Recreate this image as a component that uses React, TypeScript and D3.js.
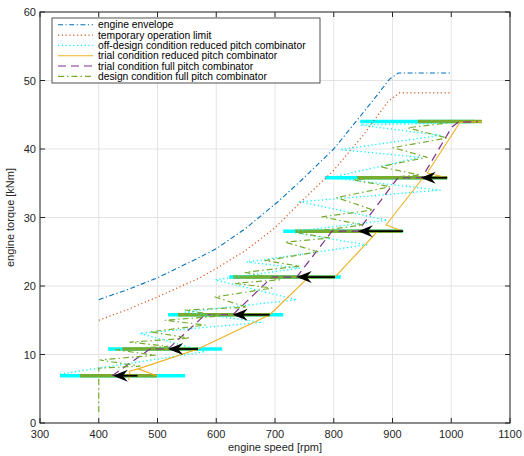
import React from 'react';
import * as d3 from 'd3';

type P = [number, number];

const xTicks = [300, 400, 500, 600, 700, 800, 900, 1000, 1100];
const yTicks = [0, 10, 20, 30, 40, 50, 60];

const envelope: P[] = [[400, 18.0], [450, 19.5], [500, 21.2], [572, 24.2], [601, 25.5], [650, 28.4], [705, 32.3], [742, 35.2], [800, 40.0], [865, 46.9], [895, 50.2], [910, 51.1], [1000, 51.1]];
const tempLimit: P[] = [[400, 15.0], [450, 16.6], [500, 18.4], [572, 21.2], [601, 22.6], [650, 25.2], [700, 28.5], [742, 32.1], [800, 36.9], [850, 42.0], [892, 46.9], [912, 48.2], [1000, 48.2]];

const offDesign: P[] = [[334, 7.15], [581, 10.4], [470, 13.1], [678, 14.7], [547, 16.2], [737, 18.0], [598, 20.9], [742, 22.6], [652, 23.5], [856, 26.0], [725, 27.9], [891, 29.6], [742, 32.3], [981, 34.0], [794, 35.8], [947, 38.8], [811, 39.9], [981, 42.0], [845, 43.5], [998, 43.8]];

const trialReduced: P[] = [[451, 6.3], [453, 7.6], [467, 7.9], [499, 6.9], [467, 7.9], [569, 10.8], [691, 15.8], [756, 21.2], [802, 21.3], [875, 28.0], [918, 28.0], [889, 28.9], [952, 35.8], [993, 35.8], [959, 36.5], [1015, 43.9], [1052, 44.0]];

const trialFull: P[] = [[423, 6.9], [487, 10.8], [518, 10.8], [581, 15.8], [628, 15.8], [695, 21.3], [737, 21.3], [797, 28.0], [841, 28.0], [909, 35.8], [950, 35.8], [1001, 43.2], [1012, 43.9], [1045, 44.0]];

const designFull: P[] = [[400, 1.6], [400, 8.0], [470, 8.3], [402, 9.2], [496, 9.9], [428, 10.7], [518, 11.2], [453, 11.8], [555, 12.4], [487, 13.3], [581, 14.3], [513, 15.0], [606, 15.6], [547, 16.5], [652, 16.9], [598, 18.4], [695, 19.7], [632, 20.4], [708, 20.9], [649, 22.0], [742, 22.9], [683, 23.7], [773, 25.0], [717, 26.4], [794, 27.0], [742, 27.7], [850, 28.9], [780, 30.1], [867, 31.1], [805, 32.9], [896, 34.5], [833, 35.5], [947, 36.2], [879, 37.4], [959, 38.8], [901, 40.2], [993, 41.6], [926, 43.1], [994, 43.8]];

const levels = [6.9, 10.8, 15.8, 21.3, 28.0, 35.8, 44.0];
const cyanStart = [334, 416, 518, 622, 714, 785, 845];
const cyanEnd = [547, 610, 714, 812, 918, 993, 1040];
const greenStart = [368, 440, 535, 629, 734, 840, 943];
const greenEnd = [499, 569, 691, 802, 916, 993, 1052];

const arrowStart = [466, 569, 691, 802, 918, 993];
const arrowTip = [424, 518, 628, 737, 841, 948];

const legendLabels = [
  'engine envelope',
  'temporary operation limit',
  'off-design condition reduced pitch combinator',
  'trial condition reduced pitch combinator',
  'trial condition full pitch combinator',
  'design condition full pitch combinator',
];

const C = {
  blue: '#0072BD',
  red: '#D95319',
  cyan: '#00FFFF',
  orange: '#EDB120',
  purple: '#7E2F8E',
  green: '#77AC30',
  axis: '#262626',
  grid: '#e3e3e3',
};

const styles = [
  { stroke: C.blue, dash: '5,2.5,1.2,2.5', w: 1.1 },
  { stroke: C.red, dash: '1.2,2.6', w: 1.2 },
  { stroke: C.cyan, dash: '1.2,2.6', w: 1.3 },
  { stroke: C.orange, dash: undefined as string | undefined, w: 1.1 },
  { stroke: C.purple, dash: '8,5', w: 1.2 },
  { stroke: C.green, dash: '6,3,1.5,3', w: 1.2 },
];

export default function App() {
  const W = 524, H = 456;
  const L = 40, R = 510, T = 12, B = 423;
  const x = d3.scaleLinear().domain([300, 1100]).range([L, R]);
  const y = d3.scaleLinear().domain([0, 60]).range([B, T]);
  const line = d3.line<P>().x(d => x(d[0])).y(d => y(d[1]));
  const font = "'Liberation Sans', Arial, Helvetica, sans-serif";
  const series: P[][] = [envelope, tempLimit, offDesign, trialReduced, trialFull, designFull];

  const arrowHead = (tx: number, ty: number) => {
    const len = 15, hw = 6, notch = 10;
    return `M${tx},${ty} L${tx + len},${ty - hw} L${tx + notch},${ty} L${tx + len},${ty + hw} Z`;
  };

  return (
    <svg width={W} height={H} style={{ position: 'absolute', left: 0, top: 0, background: '#fff' }} fontFamily={font}>
      <rect x={0} y={0} width={W} height={H} fill="#fff" />
      {xTicks.map(t => (
        <line key={'gx' + t} x1={x(t)} x2={x(t)} y1={T} y2={B} stroke={C.grid} strokeWidth={1} />
      ))}
      {yTicks.map(t => (
        <line key={'gy' + t} x1={L} x2={R} y1={y(t)} y2={y(t)} stroke={C.grid} strokeWidth={1} />
      ))}

      {levels.map((lv, i) => (
        <line key={'cb' + i} x1={x(cyanStart[i])} x2={x(cyanEnd[i])} y1={y(lv)} y2={y(lv)} stroke={C.cyan} strokeWidth={3.5} />
      ))}
      {levels.map((lv, i) => (
        <line key={'gb' + i} x1={x(greenStart[i])} x2={x(greenEnd[i])} y1={y(lv)} y2={y(lv)} stroke={C.green} strokeWidth={3.5} />
      ))}

      {series.map((s, i) => (
        <path key={'s' + i} d={line(s) || ''} fill="none" stroke={styles[i].stroke} strokeWidth={styles[i].w}
          strokeDasharray={styles[i].dash} strokeLinejoin="round" />
      ))}

      {arrowStart.map((s, i) => (
        <g key={'a' + i}>
          <line x1={x(s)} x2={x(arrowTip[i]) + 8} y1={y(levels[i])} y2={y(levels[i])} stroke="#000" strokeWidth={1.8} />
          <path d={arrowHead(x(arrowTip[i]), y(levels[i]))} fill="#000" />
        </g>
      ))}

      <rect x={L} y={T} width={R - L} height={B - T} fill="none" stroke={C.axis} strokeWidth={1} />
      {xTicks.map(t => (
        <g key={'tx' + t}>
          <line x1={x(t)} x2={x(t)} y1={B} y2={B - 5} stroke={C.axis} />
          <line x1={x(t)} x2={x(t)} y1={T} y2={T + 5} stroke={C.axis} />
          <text x={x(t)} y={B + 15} fontSize={11} textAnchor="middle" fill={C.axis}>{t}</text>
        </g>
      ))}
      {yTicks.map(t => (
        <g key={'ty' + t}>
          <line x1={L} x2={L + 5} y1={y(t)} y2={y(t)} stroke={C.axis} />
          <line x1={R} x2={R - 5} y1={y(t)} y2={y(t)} stroke={C.axis} />
          <text x={L - 4} y={y(t) + 4} fontSize={11} textAnchor="end" fill={C.axis}>{t}</text>
        </g>
      ))}
      <text x={(L + R) / 2} y={451} fontSize={11} textAnchor="middle" fill={C.axis}>engine speed [rpm]</text>
      <text transform={`translate(14,${(T + B) / 2}) rotate(-90)`} fontSize={11} textAnchor="middle" fill={C.axis}>engine torque [kNm]</text>

      <rect x={52} y={18} width={268} height={65} fill="#fff" stroke={C.axis} strokeWidth={0.8} />
      {legendLabels.map((lab, i) => {
        const ly = 24.8 + i * 10.3;
        return (
          <g key={'lg' + i}>
            <line x1={58} x2={93} y1={ly} y2={ly} stroke={styles[i].stroke} strokeWidth={styles[i].w} strokeDasharray={styles[i].dash} />
            <text x={98} y={ly + 3.6} fontSize={10.3} fill="#000">{lab}</text>
          </g>
        );
      })}
    </svg>
  );
}
